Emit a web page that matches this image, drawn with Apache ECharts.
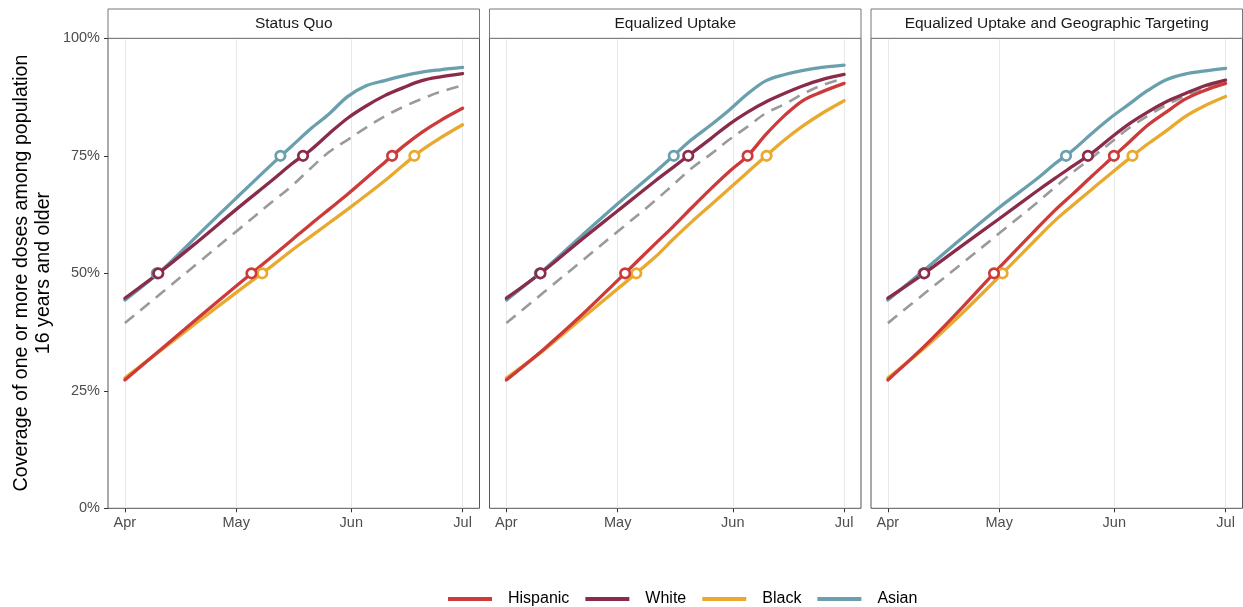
<!DOCTYPE html>
<html>
<head>
<meta charset="utf-8">
<script src="https://cdn.jsdelivr.net/npm/echarts@6/dist/echarts.min.js"></script>
<style>
html,body{margin:0;padding:0;background:#fff;}
#chart{width:1243px;height:607px;}
</style>
</head>
<body>
<div id="chart"></div>
<script>
// ---- data (days since Apr 1; coverage in %) ----
const days = [0, 10, 20, 30, 40, 45, 50, 55, 60, 65, 70, 75, 80, 85, 91];
const tickDays = [0, 30, 61, 91];
const tickLabels = ['Apr', 'May', 'Jun', 'Jul'];
const yTicks = [0, 25, 50, 75, 100];
const panels = ['Status Quo', 'Equalized Uptake', 'Equalized Uptake and Geographic Targeting'];
const groups = ['Hispanic', 'White', 'Black', 'Asian'];

// Status Quo
const sqHispanic = [27.3, 34.0, 40.7, 47.3, 53.8, 57.1, 60.4, 63.6, 66.8, 70.2, 73.6, 77.0, 80.0, 82.5, 85.1];
const sqWhite    = [44.7, 50.6, 57.0, 63.6, 70.0, 73.3, 76.2, 79.7, 83.0, 85.6, 87.8, 89.5, 91.0, 91.8, 92.5];
const sqBlack    = [27.7, 33.8, 39.9, 45.9, 51.8, 54.9, 57.8, 60.7, 63.6, 66.6, 69.7, 73.0, 76.2, 78.8, 81.6];
const sqAsian    = [44.3, 50.7, 58.4, 66.0, 73.5, 77.1, 80.7, 83.9, 87.6, 89.9, 91.0, 92.0, 92.8, 93.3, 93.8];
const sqOverall  = [39.4, 45.9, 52.4, 58.9, 65.4, 68.6, 72.3, 75.8, 78.4, 81.0, 83.4, 85.4, 87.1, 88.6, 90.0];
// Equalized Uptake
const euHispanic = [27.3, 33.8, 40.9, 48.5, 56.2, 60.0, 64.0, 67.9, 71.6, 75.0, 79.6, 83.6, 86.8, 88.6, 90.4];
const euWhite    = [44.7, 50.5, 57.0, 63.3, 69.6, 72.6, 75.6, 78.6, 81.7, 84.3, 86.5, 88.3, 89.9, 91.2, 92.3];
const euBlack    = [27.7, 33.6, 40.2, 46.7, 53.4, 57.3, 61.0, 64.5, 68.0, 71.5, 75.0, 78.4, 81.4, 84.0, 86.7];
const euAsian    = [44.3, 50.7, 57.8, 64.8, 71.5, 75.0, 78.5, 81.5, 84.7, 88.2, 91.0, 92.3, 93.2, 93.8, 94.3];
const euOverall  = [39.4, 45.9, 52.4, 58.9, 65.4, 68.9, 72.4, 75.3, 78.4, 81.2, 84.1, 86.0, 88.2, 90.0, 91.5];
// Equalized Uptake and Geographic Targeting
const gtHispanic = [27.3, 34.6, 42.7, 51.2, 59.4, 63.4, 67.0, 70.7, 74.3, 77.9, 81.5, 84.3, 87.0, 88.8, 90.4];
const gtWhite    = [44.7, 50.1, 55.9, 61.6, 67.4, 70.2, 72.9, 75.6, 78.8, 81.8, 84.3, 86.5, 88.2, 89.8, 91.1];
const gtBlack    = [27.7, 34.2, 41.5, 49.3, 57.3, 61.2, 64.6, 67.9, 71.2, 74.4, 77.5, 80.3, 83.3, 85.5, 87.6];
const gtAsian    = [44.3, 50.8, 57.5, 64.0, 70.0, 73.3, 76.3, 79.8, 83.1, 86.0, 88.9, 91.2, 92.4, 93.0, 93.6];
const gtOverall  = [39.4, 45.8, 52.1, 58.5, 64.9, 68.3, 71.6, 74.6, 77.8, 80.9, 83.5, 85.8, 87.7, 89.4, 90.8];

// Days when each group reaches 50% and 75% (order: Hispanic, White, Black, Asian)
const sqDay50 = [34.1, 9.0, 37.0, 8.6];
const sqDay75 = [72.0, 48.0, 78.0, 41.9];
const euDay50 = [32.0, 9.2, 35.0, 9.0];
const euDay75 = [65.0, 49.0, 70.1, 45.1];
const gtDay50 = [28.6, 9.8, 30.9, 9.6];
const gtDay75 = [60.9, 53.9, 65.9, 48.0];

// ---- build ----
const colors = {Hispanic: '#CD3A3A', White: '#8B2B4A', Black: '#E9A92F', Asian: '#6A9FAE'};
const panelData = [
  {Hispanic: sqHispanic, White: sqWhite, Black: sqBlack, Asian: sqAsian, overall: sqOverall, d50: sqDay50, d75: sqDay75},
  {Hispanic: euHispanic, White: euWhite, Black: euBlack, Asian: euAsian, overall: euOverall, d50: euDay50, d75: euDay75},
  {Hispanic: gtHispanic, White: gtWhite, Black: gtBlack, Asian: gtAsian, overall: gtOverall, d50: gtDay50, d75: gtDay75}
];
const FONT = "'Liberation Sans', Arial, Helvetica, sans-serif";
const lefts = [108, 489.5, 871];
const W = 371.5, TOP = 38.3, H = 470;
const pad = 91 * 0.05;
const SMOOTH = 0.35;

const grids = [], xAxes = [], yAxes = [], series = [], graphics = [];
const pair = arr => days.map((d, i) => [d, arr[i]]);
const drawOrder = ['Asian', 'Black', 'White', 'Hispanic'];

panelData.forEach((p, k) => {
  grids.push({left: lefts[k], top: TOP, width: W, height: H, show: true,
    borderColor: '#555', borderWidth: 1, backgroundColor: 'rgba(0,0,0,0)'});
  xAxes.push({type: 'value', gridIndex: k, min: -pad, max: 91 + pad,
    axisLine: {show: false, onZero: false},
    axisTick: {show: true, length: 4, lineStyle: {color: '#333'}, customValues: tickDays},
    axisLabel: {show: true, customValues: tickDays, margin: 7, color: '#4d4d4d', fontSize: 14.5, fontFamily: FONT,
      formatter: v => tickLabels[tickDays.indexOf(Math.round(v))] || ''},
    splitLine: {show: true, lineStyle: {color: '#e8e8e8', width: 1}}
  });
  yAxes.push({type: 'value', gridIndex: k, min: 0, max: 100, interval: 25,
    axisLine: {show: false, onZero: false},
    axisTick: {show: k === 0, length: 4, lineStyle: {color: '#333'}},
    axisLabel: {show: k === 0, formatter: '{value}%', margin: 8, color: '#4d4d4d', fontSize: 14.5, fontFamily: FONT},
    splitLine: {show: false}
  });
  series.push({type: 'line', name: 'Overall', xAxisIndex: k, yAxisIndex: k, data: pair(p.overall),
    smooth: SMOOTH, symbol: 'none', silent: true,
    lineStyle: {color: '#9a9a9a', width: 2.6, type: [12, 8]}, z: 2});
  drawOrder.forEach(g => {
    series.push({type: 'line', name: g, xAxisIndex: k, yAxisIndex: k, data: pair(p[g]),
      smooth: SMOOTH, symbol: 'none', silent: true,
      color: colors[g], itemStyle: {color: colors[g]},
      lineStyle: {color: colors[g], width: 3.3, join: 'round', cap: 'round'}, z: 3});
  });
  drawOrder.forEach(g => {
    const gi = groups.indexOf(g);
    series.push({type: 'scatter', name: g + ' marker', xAxisIndex: k, yAxisIndex: k,
      data: [[p.d50[gi], 50], [p.d75[gi], 75]], symbol: 'circle', symbolSize: 9.5, silent: true,
      itemStyle: {color: '#fff', borderColor: colors[g], borderWidth: 2.7, opacity: 1}, z: 5});
  });
  graphics.push({type: 'rect', shape: {x: lefts[k], y: 9, width: W, height: TOP - 9},
    style: {fill: '#fff', stroke: '#777', lineWidth: 1}, z: 10});
  graphics.push({type: 'text', x: lefts[k] + W / 2, y: (9 + TOP) / 2,
    style: {text: panels[k], fill: '#1a1a1a', font: '15.5px ' + FONT, textAlign: 'center', textVerticalAlign: 'middle'}, z: 11});
});

graphics.push({type: 'text', x: 33, y: 273, rotation: Math.PI / 2,
  style: {text: 'Coverage of one or more doses among population\n16 years and older', fill: '#000',
    font: '19.6px ' + FONT, textAlign: 'center', textVerticalAlign: 'middle', lineHeight: 22}});

const chart = echarts.init(document.getElementById('chart'), null, {renderer: 'canvas'});
chart.setOption({
  animation: false,
  backgroundColor: '#fff',
  grid: grids, xAxis: xAxes, yAxis: yAxes, series: series,
  graphic: graphics,
  legend: {data: groups, left: 448, top: 591, padding: 0, icon: 'rect', itemWidth: 44, itemHeight: 4,
    itemGap: 16, selectedMode: false,
    textStyle: {fontSize: 16, color: '#000', fontFamily: FONT, padding: [0, 0, 0, 11]}}
});
</script>
</body>
</html>
